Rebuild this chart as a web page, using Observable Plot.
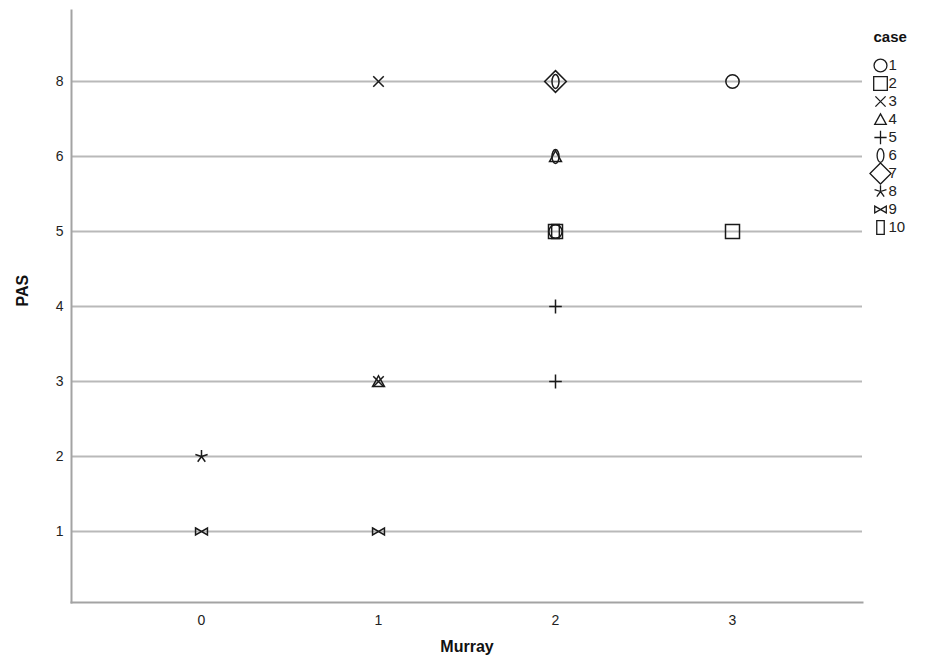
<!DOCTYPE html>
<html>
<head>
<meta charset="utf-8">
<script src="https://cdn.jsdelivr.net/npm/d3@7"></script>
<script src="https://cdn.jsdelivr.net/npm/@observablehq/plot@0.6"></script>
<style>
  html, body { margin: 0; padding: 0; background: #fff; }
  #wrap { position: relative; width: 934px; height: 664px; font-family: "Liberation Sans", Arial, sans-serif; }
  #legend { position: absolute; left: 862px; top: 0; }
  #chart { position: absolute; left: 0; top: 0; }
  #chart svg [aria-label*="tick label"] text { font-size: 14px !important; }
</style>
</head>
<body>
<div id="wrap"><div id="chart"></div><div id="legend"></div></div>
<script>
// ---- data ----
const cases = [1, 2, 3, 4, 5, 6, 7, 8, 9, 10];
const murrayTicks = [0, 1, 2, 3];
const pasTicks = [8, 6, 5, 4, 3, 2, 1];
const pointCase   = [1, 1, 2, 2, 3, 3, 4, 4, 5, 5, 6, 6, 7, 8, 9, 9, 10];
const pointMurray = [3, 2, 3, 2, 1, 1, 1, 2, 2, 2, 2, 2, 2, 0, 0, 1, 2];
const pointPas    = [8, 5, 5, 5, 8, 3, 3, 6, 4, 3, 8, 6, 8, 2, 1, 1, 5];

const points = pointCase.map((c, i) => ({case: c, murray: pointMurray[i], pas: pointPas[i]}));

// ---- custom symbols (SPSS-like) ----
const K = 0.5523;
function ellipse(ctx, rx, ry) {
  ctx.moveTo(0, -ry);
  ctx.bezierCurveTo(K * rx, -ry, rx, -K * ry, rx, 0);
  ctx.bezierCurveTo(rx, K * ry, K * rx, ry, 0, ry);
  ctx.bezierCurveTo(-K * rx, ry, -rx, K * ry, -rx, 0);
  ctx.bezierCurveTo(-rx, -K * ry, -K * rx, -ry, 0, -ry);
  ctx.closePath();
}
const R = s => Math.sqrt(s / Math.PI);
const symCircle = {draw(ctx, s) { const r = R(s) * 0.95; ctx.moveTo(r, 0); ctx.arc(0, 0, r, 0, 2 * Math.PI); ctx.closePath(); }};
const symSquare = {draw(ctx, s) { const r = R(s); ctx.rect(-r, -r, 2 * r, 2 * r); }};
const symTimes = {draw(ctx, s) { const r = R(s) * 0.75; ctx.moveTo(-r, -r); ctx.lineTo(r, r); ctx.moveTo(r, -r); ctx.lineTo(-r, r); }};
const symTriangle = {draw(ctx, s) { const r = R(s); ctx.moveTo(0, -0.82 * r); ctx.lineTo(0.85 * r, 0.72 * r); ctx.lineTo(-0.85 * r, 0.72 * r); ctx.closePath(); }};
const symPlus = {draw(ctx, s) { const r = R(s); ctx.moveTo(0, -r); ctx.lineTo(0, r); ctx.moveTo(-0.9 * r, 0); ctx.lineTo(0.9 * r, 0); }};
const symOval = {draw(ctx, s) { const r = R(s); ellipse(ctx, 0.5 * r, r); }};
const symDiamond = {draw(ctx, s) { const r = R(s) * 1.55; ctx.moveTo(0, -r); ctx.lineTo(r, 0); ctx.lineTo(0, r); ctx.lineTo(-r, 0); ctx.closePath(); }};
const symStar = {draw(ctx, s) { const r = R(s) * 0.92;
  for (let k = 0; k < 5; k++) { const a = -Math.PI / 2 + k * 2 * Math.PI / 5; ctx.moveTo(0, 0); ctx.lineTo(r * Math.cos(a), r * Math.sin(a)); } }};
const symBowtie = {draw(ctx, s) { const r = R(s); ctx.moveTo(-0.85 * r, -0.5 * r); ctx.lineTo(0.85 * r, 0.5 * r); ctx.lineTo(0.85 * r, -0.5 * r); ctx.lineTo(-0.85 * r, 0.5 * r); ctx.closePath(); }};
const symRect = {draw(ctx, s) { const r = R(s); ctx.rect(-0.55 * r, -r, 1.1 * r, 2 * r); }};
const symbolRange = [symCircle, symSquare, symTimes, symTriangle, symPlus, symOval, symDiamond, symStar, symBowtie, symRect];

const ink = "#1a1a1a";

// ---- main chart ----
const chart = Plot.plot({
  width: 934,
  height: 664,
  marginLeft: 71,
  marginRight: 72,
  marginTop: 10,
  marginBottom: 62,
  style: {fontFamily: "'Liberation Sans', Arial, sans-serif", background: "#fff"},
  x: {type: "point", domain: murrayTicks, padding: 0.722},
  y: {type: "point", domain: pasTicks, padding: 0.895},
  symbol: {domain: cases, range: symbolRange},
  marks: [
    Plot.ruleY(pasTicks, {stroke: "#b9b9b9", strokeWidth: 1.8}),
    Plot.frame({anchor: "left", stroke: "#a3a3a3", strokeWidth: 2}),
    Plot.frame({anchor: "bottom", stroke: "#a3a3a3", strokeWidth: 2}),
    Plot.axisY({tickSize: 0, tickPadding: 8, fontSize: 14, label: null, color: "#222"}),
    Plot.axisX({tickSize: 0, tickPadding: 13, fontSize: 14, label: null, color: "#222"}),
    Plot.text(["PAS"], {frameAnchor: "left", dx: -49, rotate: -90, fontSize: 16, fontWeight: "bold", fill: "#111"}),
    Plot.text(["Murray"], {frameAnchor: "bottom", dy: 49, fontSize: 16, fontWeight: "bold", fill: "#111"}),
    Plot.dot(points, {x: "murray", y: "pas", symbol: "case", r: 7, fill: "none", stroke: ink, strokeWidth: 1.5})
  ]
});
document.getElementById("chart").appendChild(chart);

// ---- legend ----
const legend = Plot.plot({
  width: 72,
  height: 240,
  margin: 0,
  style: {fontFamily: "'Liberation Sans', Arial, sans-serif", background: "transparent", overflow: "visible"},
  y: {type: "point", domain: cases, range: [64, 227], padding: 0, axis: null},
  symbol: {domain: cases, range: symbolRange},
  marks: [
    Plot.text(["case"], {frameAnchor: "top-left", dx: 11, dy: 37, lineAnchor: "middle", textAnchor: "start", fontSize: 15, fontWeight: "bold", fill: "#111"}),
    Plot.dot(cases, {y: d => d, symbol: d => d, frameAnchor: "left", dx: 18, r: 6.8, fill: "none", stroke: ink, strokeWidth: 1.3}),
    Plot.text(cases, {y: d => d, text: d => String(d), frameAnchor: "left", dx: 26, textAnchor: "start", fontSize: 15, fill: "#222"})
  ]
});
document.getElementById("legend").appendChild(legend);
</script>
</body>
</html>
